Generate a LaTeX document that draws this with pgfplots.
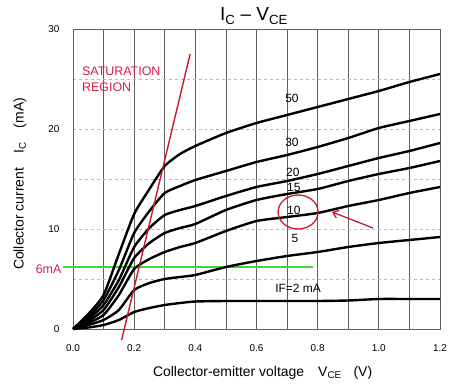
\documentclass[border=0pt]{standalone}
\usepackage{fontspec}
\setmainfont{Liberation Sans}
\usepackage{pgfplots}
\pgfplotsset{compat=1.18}
\usetikzlibrary{arrows.meta}
\definecolor{satred}{RGB}{205,25,45}
\definecolor{txtred}{RGB}{215,30,70}
\definecolor{vgrid}{RGB}{95,95,95}
\definecolor{hgrid}{RGB}{185,185,185}
\pgfplotsset{curve/.style={color=black, line width=2.4bp, line join=round, smooth, tension=0.35, mark=none}}
\begin{document}
\begin{tikzpicture}
\begin{axis}[
  scale only axis, width=367bp, height=300bp,
  at={(0,0)}, anchor=south west,
  xmin=0, xmax=1.2, ymin=0, ymax=30,
  clip=false,
  axis line style={vgrid, line width=0.7bp},
  xtick={0,0.2,...,1.2}, minor xtick={0.1,0.3,...,1.1},
  ytick={0,10,20,30}, minor ytick={5,15,25},
  major tick length=0pt, minor tick length=0pt,
  xmajorgrids, xminorgrids, ymajorgrids, yminorgrids,
  x grid style={vgrid, line width=0.7bp},
  y grid style={hgrid, dashed, line width=0.6bp},
  /pgf/number format/assume math mode=true,
  xticklabel style={font=\fontsize{10}{12}\selectfont, yshift=-12bp, /pgf/number format/.cd, fixed, fixed zerofill, precision=1},
  yticklabel style={font=\fontsize{10}{12}\selectfont, xshift=-10bp},
]
% 6 mA line
\addplot[color={rgb,255:red,60;green,215;blue,50}, line width=2bp, mark=none] coordinates {(-0.034,6.15)(0.785,6.15)};
% IF = 50
\addplot[curve] coordinates {(0,0)(0.05,1.5)(0.1,3.4)(0.15,7.5)(0.2,11.5)(0.25,14.0)(0.3,16.3)(0.35,17.5)(0.4,18.3)(0.5,19.6)(0.6,20.6)(0.7,21.4)(0.8,22.2)(0.9,23.0)(1.0,23.8)(1.1,24.7)(1.2,25.5)};
% IF = 30
\addplot[curve] coordinates {(0,0)(0.05,1.2)(0.1,2.9)(0.15,5.9)(0.2,9.6)(0.25,11.8)(0.3,13.6)(0.35,14.3)(0.4,14.9)(0.5,15.8)(0.6,16.7)(0.7,17.4)(0.8,18.2)(0.9,19.1)(1.0,20.1)(1.1,20.8)(1.2,21.5)};
% IF = 20
\addplot[curve] coordinates {(0,0)(0.05,1.0)(0.1,2.4)(0.15,4.9)(0.2,8.2)(0.25,10.1)(0.3,11.4)(0.35,11.9)(0.4,12.3)(0.5,13.3)(0.6,14.2)(0.7,14.8)(0.8,15.5)(0.9,16.3)(1.0,17.1)(1.1,17.8)(1.2,18.6)};
% IF = 15
\addplot[curve] coordinates {(0,0)(0.05,0.8)(0.1,1.9)(0.15,4.2)(0.2,7.1)(0.25,8.6)(0.3,9.6)(0.35,10.1)(0.4,10.5)(0.5,11.9)(0.6,12.9)(0.7,13.5)(0.8,14.0)(0.9,14.8)(1.0,15.5)(1.1,16.1)(1.2,16.8)};
% IF = 10
\addplot[curve] coordinates {(0,0)(0.05,0.6)(0.1,1.4)(0.15,3.4)(0.2,6.0)(0.25,7.0)(0.3,7.7)(0.35,8.2)(0.4,8.6)(0.5,9.8)(0.6,10.8)(0.7,11.2)(0.8,11.6)(0.9,12.3)(1.0,12.9)(1.1,13.6)(1.2,14.2)};
% IF = 5
\addplot[curve] coordinates {(0,0)(0.05,0.4)(0.1,0.9)(0.15,1.9)(0.2,3.9)(0.25,4.6)(0.3,5.0)(0.35,5.2)(0.4,5.4)(0.5,6.2)(0.6,6.8)(0.7,7.3)(0.8,7.7)(0.9,8.2)(1.0,8.6)(1.1,8.9)(1.2,9.2)};
% IF = 2
\addplot[curve] coordinates {(0,0)(0.05,0.15)(0.1,0.4)(0.15,0.9)(0.2,1.7)(0.25,2.1)(0.3,2.4)(0.35,2.6)(0.4,2.75)(0.5,2.8)(0.6,2.8)(0.7,2.8)(0.8,2.8)(0.9,2.85)(1.0,3.0)(1.1,3.0)(1.2,3.0)};
% saturation line
\addplot[color=satred, line width=1.4bp, mark=none] coordinates {(0.159,-1.1)(0.383,27.5)};
% highlight circle and arrow
\draw[satred, line width=1.3bp] (axis cs:0.736,11.7) ellipse [x radius=20bp, y radius=17bp];
\draw[satred, line width=1.3bp, -{Straight Barb[length=5bp,width=8bp]}] (axis cs:0.981,10.1) -- (axis cs:0.847,11.7);
% curve labels
\node[font=\fontsize{12}{14}\selectfont] at (axis cs:0.716,23.1) {50};
\node[font=\fontsize{12}{14}\selectfont] at (axis cs:0.716,18.7) {30};
\node[font=\fontsize{12}{14}\selectfont] at (axis cs:0.719,15.7) {20};
\node[font=\fontsize{12}{14}\selectfont] at (axis cs:0.722,14.2) {15};
\node[font=\fontsize{12}{14}\selectfont] at (axis cs:0.722,11.9) {10};
\node[font=\fontsize{12}{14}\selectfont] at (axis cs:0.726,9.1) {5};
\node[font=\fontsize{12}{14}\selectfont] at (axis cs:0.736,4.1) {IF=2 mA};
% annotations
\node[font=\fontsize{12.5}{16}\selectfont, text=txtred, align=left, anchor=north west, inner sep=0pt] at (axis cs:0.029,26.2) {SATURATION\\REGION};
\node[font=\fontsize{12.5}{14}\selectfont, text=txtred, anchor=east, inner sep=1pt] at (axis cs:-0.034,6.0) {6mA};
% title and axis labels
\node[font=\fontsize{19}{22}\selectfont] at (axis cs:0.592,31.3) {I\textsubscript{C} – V\textsubscript{CE}};
\node[font=\fontsize{14}{16}\selectfont] at (axis cs:0.62,-4.4) {Collector-emitter voltage\hspace{14bp}V\textsubscript{CE}\hspace{12bp}(V)};
\node[font=\fontsize{14}{16}\selectfont, rotate=90] at (axis cs:-0.173,14.5) {Collector current\hspace{14bp}I\textsubscript{C}\hspace{14bp}(mA)};
\end{axis}
\path[use as bounding box] (-73bp,-56bp) rectangle (378bp,329bp);
\end{tikzpicture}
\end{document}
